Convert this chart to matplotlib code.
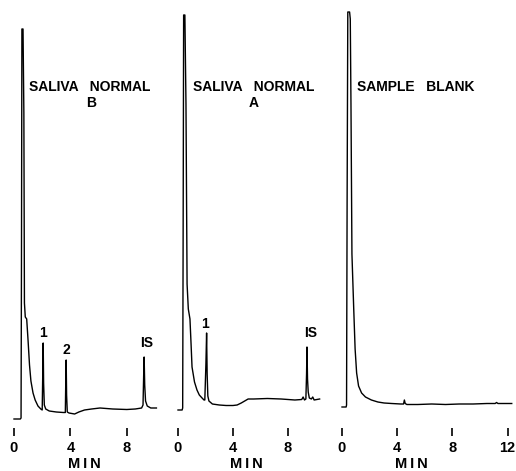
import matplotlib
matplotlib.use('Agg')
import matplotlib.pyplot as plt

plt.rcParams['font.family'] = ['Liberation Sans', 'DejaVu Sans']
plt.rcParams['font.weight'] = 'bold'

# chromatogram traces: time (min), detector response (arb.)
t_b = [0.00, 0.45, 0.50, 0.53, 0.56, 0.64, 0.70, 0.74, 0.80, 0.90, 1.00, 1.10,
       1.20, 1.35, 1.50, 1.70, 1.90, 2.00, 2.04, 2.07, 2.10, 2.15, 2.25, 2.50,
       3.00, 3.50, 3.64, 3.67, 3.70, 3.73, 3.78, 3.90, 4.30, 4.60, 5.00, 5.50,
       6.10, 7.00, 8.00, 8.60, 9.05, 9.15, 9.20, 9.23, 9.27, 9.33, 9.45, 9.70,
       10.10]
y_b = [-6, -6, -5, 150, 384, 384, 300, 110, 96, 94, 72, 48,
       32, 20, 13, 7, 4, 3, 40, 70, 30, 8, 4, 2,
       1, 0.5, 0.5, 30, 53, 18, 1, 0, -1, 1, 3, 4,
       5, 4, 3.5, 4, 5, 8, 40, 56, 28, 12, 7, 5,
       5]

t_a = [0.00, 0.30, 0.34, 0.37, 0.41, 0.50, 0.58, 0.66, 0.75, 0.87, 0.95, 1.02,
       1.20, 1.38, 1.55, 1.75, 1.89, 1.95, 2.03, 2.08, 2.12, 2.17, 2.25, 2.50,
       3.00, 3.50, 4.00, 4.30, 4.60, 5.10, 5.50, 6.50, 7.50, 8.50, 9.00, 9.10,
       9.20, 9.30, 9.35, 9.38, 9.42, 9.47, 9.55, 9.70, 9.80, 9.90, 10.30]
y_a = [-6, -6, -4, 150, 389, 389, 300, 120, 95, 85, 60, 37,
       22, 14, 9, 6, 4, 4, 40, 71, 30, 8, 3, 0,
       -1, -1.5, -1.5, -1, 1, 5, 5, 5.5, 5, 4, 4.5, 7,
       4, 5, 30, 57, 25, 12, 6, 5, 7, 4, 5]

t_s = [0.00, 0.30, 0.33, 0.37, 0.42, 0.55, 0.60, 0.65, 0.72, 0.85, 0.95, 1.06,
       1.20, 1.42, 1.70, 2.13, 2.60, 3.05, 3.60, 4.26, 4.46, 4.52, 4.58, 4.70,
       5.50, 6.50, 7.50, 8.50, 9.50, 10.50, 11.10, 11.20, 11.30, 12.30]
y_s = [-3, -3, -1, 200, 392, 392, 385, 300, 150, 95, 55, 31,
       18, 11, 7, 4, 2, 1, 0.5, 0, 0, 4, 0.5, -0.5,
       -0.5, 0, -0.5, 0, 0, 0.5, 0.5, 1.5, 0.5, 0.5]

titles = [['SALIVA   NORMAL', 'B'], ['SALIVA   NORMAL', 'A'], ['SAMPLE   BLANK']]
ticks = [[0, 4, 8], [0, 4, 8], [0, 4, 8, 12]]
peak_labels = [[('1', 2.06, 80), ('2', 3.69, 63), ('IS', 9.43, 70)],
               [('1', 1.96, 80), ('IS', 9.65, 71)],
               []]

W, H = 516, 471
fig = plt.figure(figsize=(W / 100, H / 100), dpi=100)

# pixel layout: x of t=0, px per min, baseline row, xlim
panels = [(14, 14.1, 413, (-0.3, 10.5)),
          (178, 13.75, 404, (-0.3, 10.6)),
          (342, 13.8, 404, (-0.3, 12.5))]
top_px, bot_px = 5, 428
traces = [(t_b, y_b), (t_a, y_a), (t_s, y_s)]

for i, (x0, s, base, xl) in enumerate(panels):
    left = x0 + xl[0] * s
    right = x0 + xl[1] * s
    ax = fig.add_axes([left / W, (H - bot_px) / H, (right - left) / W, (bot_px - top_px) / H])
    t, y = traces[i]
    ax.plot(t, y, color='black', lw=1.0, clip_on=False)
    ax.set_xlim(xl)
    ax.set_ylim(-(bot_px - base), base - top_px)
    for sp in ax.spines.values():
        sp.set_visible(False)
    ax.set_yticks([])
    ax.set_xticks(ticks[i])
    ax.tick_params(axis='x', direction='out', length=6, width=1.2, pad=3.5, labelsize=10.5)
    for lb in ax.get_xticklabels():
        lb.set_fontweight('bold')
    ax.text(5.0, -0.085, 'M\u2009I\u2009N', transform=ax.get_xaxis_transform(), ha='center',
            va='center', fontsize=10.5, fontweight='bold')
    # sample title
    ax.text(1.06, base - 87, titles[i][0], ha='left', va='center', fontsize=10, fontweight='bold')
    if len(titles[i]) > 1:
        ax.text(5.5, base - 103, titles[i][1], ha='center', va='center', fontsize=10, fontweight='bold')
    for lab, lx, ly in peak_labels[i]:
        ax.text(lx, ly, lab, ha='center', va='center', fontsize=10, fontweight='bold')

fig.savefig('out.png', dpi=100)
